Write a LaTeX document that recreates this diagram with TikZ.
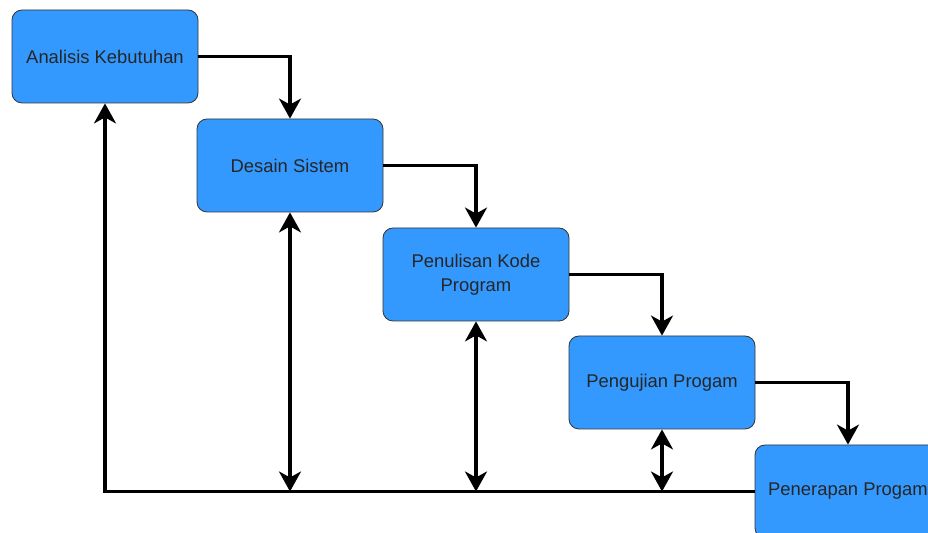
\documentclass[tikz,border=0pt]{standalone}
\usepackage{fontspec}
\setmainfont{Liberation Sans}
\definecolor{tahapbiru}{HTML}{3399FF}
\usepackage{tikz}
\usetikzlibrary{positioning, calc, arrows.meta}

\begin{document}
\begin{tikzpicture}[x=0.5pt, y=-0.5pt,
  tahap/.style={draw=black!80, fill=tahapbiru, rounded corners=5pt,
    minimum width=93pt, minimum height=46.5pt, align=center,
    text=black!85, font=\fontsize{9.2}{12}\selectfont},
  alur/.style={line width=1.6pt, -{Stealth[length=10pt, width=11pt, inset=3pt]}},
  timbal/.style={line width=1.6pt, {Stealth[length=10pt, width=11pt, inset=3pt]}-{Stealth[length=10pt, width=11pt, inset=3pt]}}]
  \useasboundingbox (0,0) rectangle (928,533);
  \clip (0,0) rectangle (928,533);

  % tahapan
  \node[tahap] (analisis)  at (105,56.5)  {Analisis Kebutuhan};
  \node[tahap] (desain)    at (290,165.5) {Desain Sistem};
  \node[tahap] (penulisan) at (476,274.5) {Penulisan Kode\\Program};
  \node[tahap] (pengujian) at (662,382.5) {Pengujian Progam};
  \node[tahap] (penerapan) at (848,491.5) {Penerapan Progam};

  % alur turun
  \foreach \a/\b in {analisis/desain, desain/penulisan,
                     penulisan/pengujian, pengujian/penerapan} {
    \draw[alur] (\a.east) -| (\b.north);
  }

  % alur balik
  \draw[alur] (penerapan.west) -| (analisis.south);
  \foreach \t in {desain, penulisan, pengujian} {
    \draw[timbal] (\t.south) -- (\t.south |- penerapan.west);
  }

\end{tikzpicture}
\end{document}
